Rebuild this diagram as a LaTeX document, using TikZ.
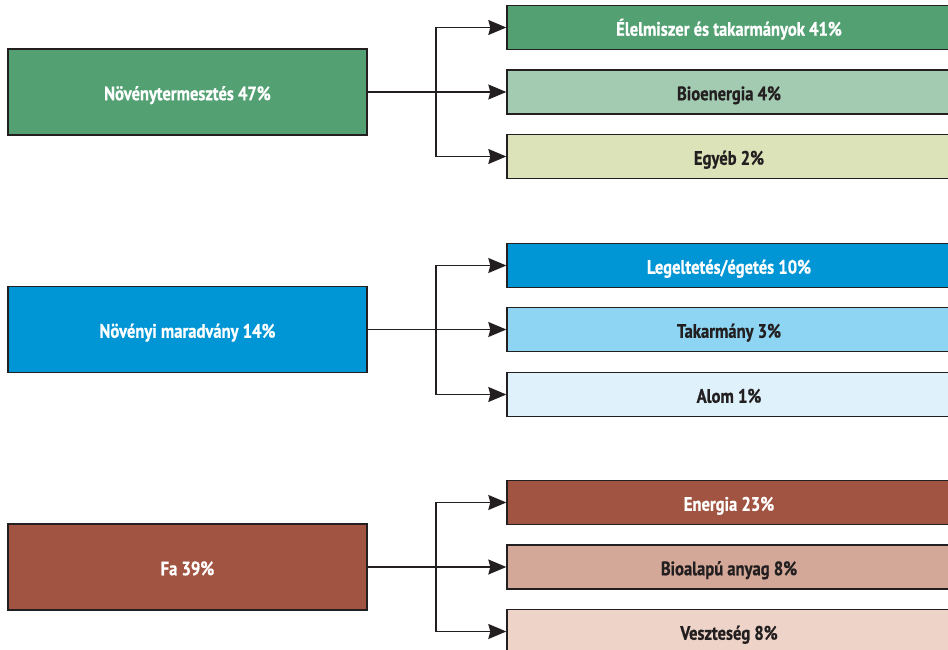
\documentclass[tikz,border=0pt]{standalone}
\usepackage{fontspec}
\setmainfont[FakeStretch=0.85,BoldFeatures={FakeBold=0.6}]{PT Sans}
\usetikzlibrary{arrows.meta}
\definecolor{ink}{HTML}{231F20}
\definecolor{gA}{HTML}{53A173}
\definecolor{gB}{HTML}{A3CBB2}
\definecolor{gC}{HTML}{DDE3B8}
\definecolor{bA}{HTML}{0096D6}
\definecolor{bB}{HTML}{8DD5F2}
\definecolor{bC}{HTML}{DFF2FB}
\definecolor{rA}{HTML}{A15441}
\definecolor{rB}{HTML}{D4A898}
\definecolor{rC}{HTML}{EDD3C8}
\tikzset{
  box/.style={draw=ink, line width=1.4pt, inner sep=0pt, text height=16.5pt, text depth=0pt, font=\fontsize{19.5}{22}\selectfont\bfseries, text=ink},
  lbox/.style={box, minimum width=359pt, minimum height=86pt, text=white},
  rbox/.style={box, minimum width=444pt, minimum height=44pt},
  dark/.style={text=white},
  arr/.style={draw=ink, line width=1.3pt, -{Stealth[length=18pt,width=15pt,inset=2pt]}},
}
\begin{document}
\begin{tikzpicture}[x=1pt,y=-1pt]
\useasboundingbox (0,0) rectangle (948,650);
\clip (0,0) rectangle (948,650);
% group 1
\node[lbox, fill=gA] (a) at (187.5,92) {Növénytermesztés 47\%};
\node[rbox, fill=gA, dark] (a1) at (729,27.5) {Élelmiszer és takarmányok 41\%};
\node[rbox, fill=gB] (a2) at (729,92) {Bioenergia 4\%};
\node[rbox, fill=gC] (a3) at (729,156.5) {Egyéb 2\%};
\coordinate (ja) at (436,92);
\draw[arr] (a.east) -- (a2.west);
\draw[arr] (ja) |- (a1.west);
\draw[arr] (ja) |- (a3.west);
% group 2
\node[lbox, fill=bA] (b) at (187.5,329.5) {Növényi maradvány 14\%};
\node[rbox, fill=bA, dark] (b1) at (729,265.5) {Legeltetés/égetés 10\%};
\node[rbox, fill=bB] (b2) at (729,329.5) {Takarmány 3\%};
\node[rbox, fill=bC] (b3) at (729,394.5) {Alom 1\%};
\coordinate (jb) at (436,329.5);
\draw[arr] (b.east) -- (b2.west);
\draw[arr] (jb) |- (b1.west);
\draw[arr] (jb) |- (b3.west);
% group 3
\node[lbox, fill=rA] (c) at (187.5,567) {Fa 39\%};
\node[rbox, fill=rA, dark] (c1) at (729,502.5) {Energia 23\%};
\node[rbox, fill=rB] (c2) at (729,567) {Bioalapú anyag 8\%};
\node[rbox, fill=rC] (c3) at (729,631.5) {Veszteség 8\%};
\coordinate (jc) at (436,567);
\draw[arr] (c.east) -- (c2.west);
\draw[arr] (jc) |- (c1.west);
\draw[arr] (jc) |- (c3.west);
\end{tikzpicture}
\end{document}
